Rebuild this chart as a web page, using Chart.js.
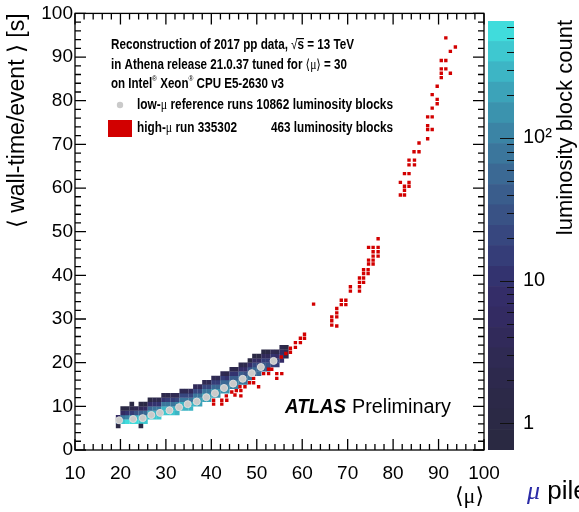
<!DOCTYPE html>
<html>
<head>
<meta charset="utf-8">
<script src="https://cdn.jsdelivr.net/npm/chart.js@4.4.1/dist/chart.umd.min.js"></script>
<style>
html, body { margin: 0; padding: 0; background: #fff; overflow: hidden; }
#wrap { position: relative; width: 579px; height: 512px; overflow: hidden; }
#main { position: absolute; left: 0; top: 0; }
#zbar { position: absolute; left: 486px; top: 0; }
#pile { position: absolute; left: 527px; top: 475px; font: 26px "Liberation Sans", Arial, sans-serif; line-height: 30px; white-space: nowrap; }
#pile span { font-family: "Liberation Serif", serif; font-style: italic; color: #2b2ba6; }
</style>
</head>
<body>
<div id="wrap">
  <canvas id="main" width="579" height="512"></canvas>
  <canvas id="zbar" width="93" height="512"></canvas>
  <div id="pile"><span>μ</span> pile</div>
</div>
<script>
// low-mu reference runs (profile points)
const lowMuX = [19.7, 22.8, 24.9, 26.8, 28.7, 30.8, 32.9, 34.8, 36.8, 38.9, 40.8, 42.8, 44.8, 46.9, 48.9, 50.9, 53.7];
const lowMuY = [6.8, 7.1, 7.3, 8.0, 8.5, 9.1, 9.8, 10.5, 11.1, 12.1, 13.0, 14.2, 15.2, 16.3, 17.6, 19.0, 20.4];

// high-mu run 335302, one marker per luminosity block bin
const highMuX = [
  40.5, 40.5, 42.3, 42.3, 43.4, 43.3, 44.5, 45.2, 45.5, 46.5, 46.3, 46.5, 47.4, 48.4, 49.3, 49.3, 50.4,
  51.5, 52.6, 52.6, 53.3, 54.4, 55.5, 54.4, 55.4, 56.4, 57.4, 57.4, 58.5, 58.5, 59.6, 59.6, 60.5, 60.5,
  62.5,
  66.5, 66.5, 66.5, 67.6, 67.6, 67.6, 67.6, 68.6, 68.6, 69.6, 69.6, 70.6, 70.6, 72.6, 72.6, 72.6, 72.6,
  73.5, 73.5, 73.5, 73.5, 74.5, 74.5, 74.6, 74.6, 75.6, 75.6, 75.6, 75.6, 75.6, 76.7, 76.7, 76.7, 74.6, 76.7,
  81.6, 82.5, 82.5, 82.5, 83.5, 81.6, 83.5, 82.5, 83.5, 83.5, 83.5, 84.7, 84.7, 84.6, 85.7, 85.7,
  87.6, 87.6, 88.6, 87.6, 87.6, 88.6, 88.6, 89.7, 89.7, 88.6, 89.7, 90.6, 90.6, 92.6, 90.6, 91.6, 90.6, 91.6, 92.6, 93.7, 91.6
];
const highMuY = [
  10.5, 11.4, 10.5, 11.4, 11.4, 12.4, 13.3, 12.6, 13.6, 13.6, 14.5, 12.4, 14.5, 15.4, 15.4, 16.4, 14.5,
  17.5, 17.5, 18.5, 18.5, 17.5, 17.5, 16.4, 21.3, 22.1, 22.4, 23.3, 23.5, 24.6, 24.6, 25.6, 25.6, 26.5,
  33.4,
  28.6, 29.6, 30.5, 28.4, 30.5, 31.4, 32.4, 33.3, 34.3, 33.3, 34.3, 36.4, 37.4, 36.4, 37.4, 38.4, 39.4,
  38.4, 39.4, 40.4, 41.3, 40.4, 41.3, 42.6, 43.5, 42.6, 43.5, 44.4, 45.4, 46.4, 44.4, 45.4, 46.4, 46.4, 48.4,
  58.4, 58.4, 59.5, 60.4, 60.4, 61.3, 61.3, 63.3, 63.3, 65.3, 66.4, 65.3, 66.4, 68.3, 68.3, 70.3,
  71.3, 73.4, 73.4, 74.3, 76.3, 76.3, 78.3, 79.3, 80.3, 81.4, 83.3, 85.3, 86.3, 86.3, 87.3, 87.3, 89.2, 89.2, 91.3, 92.3, 94.4
];

// 2D histogram of the reference runs: column lower edge in mu, first y bin, counts per 1 s bin
const heatX = [19, 20, 21, 22, 23, 24, 25, 26, 27, 28, 29, 30, 31, 32, 33, 34, 35, 36, 37,
               38, 39, 40, 41, 42, 43, 44, 45, 46, 47, 48, 49, 50, 51, 52, 53, 54, 55, 56];
const heatY0 = [5, 6, 6, 6, 6, 6, 6, 7, 7, 7, 8, 8, 8, 8, 9, 9, 9, 10, 10,
                11, 11, 12, 12, 13, 13, 14, 14, 15, 15, 16, 17, 17, 18, 18, 19, 19, 20, 21];
const heatCounts = [
  [1, 40, 6], [450, 80, 5, 1], [550, 120, 10, 1], [550, 180, 15, 2], [500, 250, 25, 3],
  [450, 280, 40, 4, 1], [400, 300, 50, 6, 1], [450, 280, 60, 8, 1], [450, 300, 70, 10, 2],
  [400, 320, 80, 12, 2], [420, 300, 80, 12, 2], [400, 300, 90, 15, 2], [380, 300, 90, 15, 3],
  [330, 300, 100, 18, 3], [320, 280, 90, 18, 3], [300, 260, 90, 20, 3], [260, 250, 90, 20, 4],
  [260, 230, 80, 20, 4], [230, 220, 80, 20, 4], [220, 200, 75, 18, 3], [200, 190, 70, 18, 3],
  [180, 170, 65, 16, 3], [160, 150, 60, 15, 3], [150, 140, 55, 14, 3], [130, 120, 50, 12, 2],
  [120, 110, 45, 12, 2], [100, 100, 40, 10, 2], [90, 90, 35, 9, 2], [80, 80, 30, 8, 2],
  [70, 70, 28, 7, 1], [60, 60, 24, 6, 1], [50, 50, 20, 5, 1], [40, 40, 16, 4, 1], [30, 32, 14, 4, 1],
  [22, 25, 10, 3], [15, 18, 8, 2], [8, 10, 5, 2], [2, 3, 1]
];
const heatExtra = [[22, 10, 1], [24, 5, 1]];

// colour palette levels of the z axis (luminosity block count)
const zLevels = [0.65, 0.904, 1.257, 1.748, 2.43, 3.38, 4.70, 6.53, 9.09, 12.6, 17.6, 24.4,
                 34.0, 47.2, 65.7, 91.3, 127, 177, 246, 342, 475, 660];
const zColors = ['#2a2942', '#2b2945', '#2c2948', '#2d294d', '#2f2a53', '#312a5a', '#332b62',
                 '#342d68', '#33336f', '#353d78', '#37477f', '#395285', '#3a5d8c', '#3b6994',
                 '#3b769c', '#3b84a5', '#3b93ae', '#3ca3b9', '#3db5c5', '#3ec8d0', '#40dcdc'];
const zTickValues = [1, 10, 100];

const FONT = '"Liberation Sans", Arial, sans-serif';
const SERIF = '"Liberation Serif", "DejaVu Serif", serif';

function colorFor(n) {
  for (let i = 0; i < zColors.length; i++) {
    if (n < zLevels[i + 1]) return zColors[i];
  }
  return zColors[zColors.length - 1];
}

const heatCells = [];
heatX.forEach((x, i) => {
  heatCounts[i].forEach((n, j) => heatCells.push({x: x + 0.5, y: heatY0[i] + j + 0.5, n: n}));
});
heatExtra.forEach(c => heatCells.push({x: c[0] + 0.5, y: c[1] + 0.5, n: c[2]}));

// draw a line of mixed-font text squeezed into a given width
function drawSegs(ctx, x, y, segs, width) {
  ctx.save();
  let w = 0;
  segs.forEach(s => { ctx.font = s.f; s.w = ctx.measureText(s.t).width; w += s.w; });
  ctx.translate(x, y);
  ctx.scale(width ? width / w : 1, 1);
  let cx = 0;
  segs.forEach(s => {
    ctx.font = s.f;
    ctx.fillText(s.t, cx, s.dy || 0);
    if (s.over) ctx.fillRect(cx - 1, -7, s.w + 1, 1.2);
    cx += s.w;
  });
  ctx.restore();
}

const frameTicks = {
  id: 'frameTicks',
  afterDatasetsDraw(chart) {
    const {ctx, chartArea: a, scales: {x, y}} = chart;
    ctx.save();
    ctx.strokeStyle = '#000';
    ctx.lineWidth = 1.3;
    ctx.strokeRect(a.left, a.top, a.right - a.left, a.bottom - a.top);
    ctx.beginPath();
    for (let v = 10; v <= 100; v += 2) {
      const p = x.getPixelForValue(v);
      const L = v % 10 === 0 ? 11 : 6;
      ctx.moveTo(p, a.bottom); ctx.lineTo(p, a.bottom - L);
      ctx.moveTo(p, a.top); ctx.lineTo(p, a.top + L);
    }
    for (let v = 0; v <= 100; v += 2) {
      const p = y.getPixelForValue(v);
      const L = v % 10 === 0 ? 11 : 6;
      ctx.moveTo(a.left, p); ctx.lineTo(a.left + L, p);
      ctx.moveTo(a.right, p); ctx.lineTo(a.right - L, p);
    }
    ctx.stroke();
    ctx.restore();
  }
};

const labels = {
  id: 'labels',
  afterDraw(chart) {
    const ctx = chart.ctx;
    const B = 'bold 14px ' + FONT;
    const N = '14px ' + SERIF;
    ctx.save();
    ctx.fillStyle = '#000';
    ctx.textBaseline = 'middle';
    drawSegs(ctx, 111, 45, [
      {t: 'Reconstruction of 2017 pp data, ', f: B},
      {t: '√', f: '14px ' + FONT},
      {t: 's', f: B, over: true},
      {t: ' = 13 TeV', f: B}
    ], 243);
    drawSegs(ctx, 111, 65, [
      {t: 'in Athena release 21.0.37 tuned for ', f: B},
      {t: '⟨μ⟩', f: N},
      {t: ' = 30', f: B}
    ], 236);
    drawSegs(ctx, 111, 84, [
      {t: 'on Intel', f: B},
      {t: '®', f: '8px ' + FONT, dy: -5},
      {t: ' Xeon', f: B},
      {t: '®', f: '8px ' + FONT, dy: -5},
      {t: ' CPU E5-2630 v3', f: B}
    ], 173);
    // legend
    const ds = chart.data.datasets;
    ctx.fillStyle = ds[0].backgroundColor;
    ctx.beginPath(); ctx.arc(120, 105, 3.2, 0, Math.PI * 2); ctx.fill();
    ctx.fillStyle = ds[1].backgroundColor;
    ctx.fillRect(108, 120, 24, 17);
    ctx.fillStyle = '#000';
    drawSegs(ctx, 137, 105, [
      {t: 'low-', f: B}, {t: 'μ', f: N}, {t: ' reference runs 10862 luminosity blocks', f: B}
    ], 256);
    drawSegs(ctx, 137, 128, [
      {t: 'high-', f: B}, {t: 'μ', f: N}, {t: ' run 335302', f: B}
    ], 100);
    drawSegs(ctx, 271, 128, [{t: '463 luminosity blocks', f: B}], 122);
    // experiment label
    drawSegs(ctx, 285, 407, [{t: 'ATLAS', f: 'italic bold 20px ' + FONT}], 61);
    drawSegs(ctx, 352, 407, [{t: 'Preliminary', f: '20px ' + FONT}], 99);
    ctx.restore();
  }
};

new Chart(document.getElementById('main'), {
  type: 'scatter',
  data: {
    datasets: [
      {
        label: 'low-μ reference runs',
        data: lowMuX.map((x, i) => ({x: x, y: lowMuY[i]})),
        pointStyle: 'circle', pointRadius: 3.5,
        backgroundColor: '#cacaca', borderColor: '#dedede', borderWidth: 1
      },
      {
        label: 'high-μ run 335302',
        data: highMuX.map((x, i) => ({x: x, y: highMuY[i]})),
        pointStyle: 'rect', pointRadius: 2.4,
        backgroundColor: '#d20000', borderWidth: 0
      },
      {
        label: 'luminosity block count',
        data: heatCells,
        pointStyle: 'rect', pointRadius: 3.3,
        backgroundColor: heatCells.map(c => colorFor(c.n)), borderWidth: 0
      }
    ]
  },
  options: {
    responsive: false,
    animation: false,
    events: [],
    layout: {padding: {top: 13, right: 95, left: 0, bottom: 0}},
    plugins: {legend: {display: false}, tooltip: {enabled: false}},
    scales: {
      x: {
        type: 'linear', min: 10, max: 100,
        grid: {display: false, drawTicks: false}, border: {display: false},
        ticks: {stepSize: 10, padding: 12, color: '#000', maxRotation: 0, font: {family: FONT, size: 19}},
        title: {display: true, text: '⟨μ⟩', align: 'end', color: '#000',
                font: {family: SERIF, size: 22}, padding: {top: 0, bottom: 2}},
        afterFit(s) { s.height = 62; }
      },
      y: {
        type: 'linear', min: 0, max: 100,
        grid: {display: false, drawTicks: false}, border: {display: false},
        ticks: {stepSize: 10, padding: 2, color: '#000', font: {family: FONT, size: 19}},
        title: {display: true, text: '⟨ wall-time/event ⟩ [s]', align: 'end', color: '#000',
                font: {family: FONT, size: 23}, padding: {top: 4, bottom: 0}},
        afterFit(s) { s.width = 75; }
      }
    }
  },
  plugins: [frameTicks, labels]
});

const zTicks = {
  id: 'zTicks',
  afterDraw(chart) {
    const {ctx, chartArea: a, scales: {y}} = chart;
    ctx.save();
    ctx.strokeStyle = '#111';
    ctx.lineWidth = 1;
    ctx.beginPath();
    [1, 10, 100].forEach(dec => {
      for (let m = 1; m < 10; m++) {
        const v = dec * m;
        if (v > 660) break;
        const p = Math.round(y.getPixelForValue(v)) + 0.5;
        const L = m === 1 ? 14 : 7;
        ctx.moveTo(a.right, p); ctx.lineTo(a.right - L, p);
      }
    });
    ctx.stroke();
    ctx.translate(80, 20);
    ctx.rotate(-Math.PI / 2);
    ctx.fillStyle = '#000';
    ctx.font = '22px ' + FONT;
    ctx.textAlign = 'right';
    ctx.textBaseline = 'middle';
    ctx.fillText('luminosity block count', 0, 0);
    ctx.restore();
  }
};

new Chart(document.getElementById('zbar'), {
  type: 'bar',
  data: {
    labels: [''],
    datasets: zColors.map((c, i) => ({
      data: [[zLevels[i], zLevels[i + 1]]],
      backgroundColor: c, borderWidth: 0, grouped: false,
      barPercentage: 1, categoryPercentage: 1
    }))
  },
  options: {
    responsive: false,
    animation: false,
    events: [],
    layout: {padding: {top: 13, bottom: 62, left: 2, right: 0}},
    plugins: {legend: {display: false}, tooltip: {enabled: false}},
    scales: {
      x: {display: false},
      y: {
        type: 'logarithmic', position: 'right', min: zLevels[0], max: zLevels[zLevels.length - 1],
        grid: {display: false, drawTicks: false}, border: {display: false},
        ticks: {padding: 9, color: '#000', font: {family: FONT, size: 20},
                callback: v => ({1: '1', 10: '10', 100: '10²'})[v] || ''},
        afterBuildTicks(s) { s.ticks = zTickValues.map(v => ({value: v})); },
        afterFit(s) { s.width = 65; }
      }
    }
  },
  plugins: [zTicks]
});
</script>
</body>
</html>
